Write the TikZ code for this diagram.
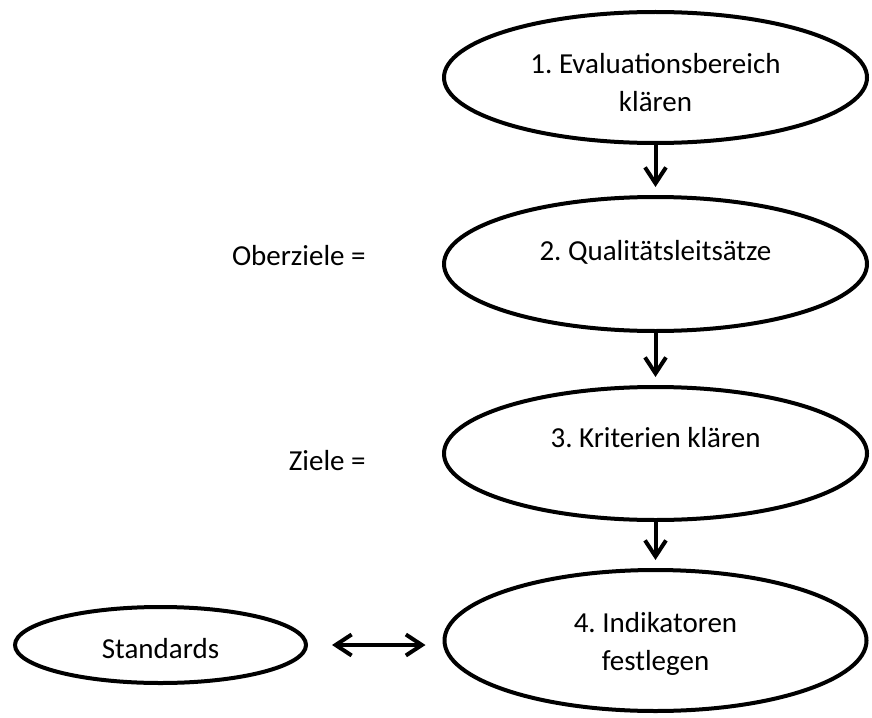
\documentclass[tikz,border=0pt]{standalone}
\usepackage{fontspec}
\setmainfont{Carlito}
\usetikzlibrary{shapes.geometric,arrows.meta}
\frenchspacing
\begin{document}
\begin{tikzpicture}
[x=0.5pt,y=-0.5pt,
  nodedecorate/.style={shape=ellipse,draw,line width=2pt,inner sep=0pt},%
  textdecorate/.style={anchor=base,inner sep=0pt,font=\fontsize{14.5}{18}\selectfont},%
  linedecorate/.style={line width=2pt,-{Straight Barb[length=8pt,width=10.5pt]}}]
\useasboundingbox (0,0) rectangle (872,717);
%% ellipses
\foreach \nodename/\x/\y/\w/\h in {e1/655.5/77.5/423/131, e2/655.5/264/423/134,
  e3/655.5/453.5/423/133, e4/655.5/640.5/422/141, std/160.5/645/291/76}
{
  \node (\nodename) at (\x,\y) [nodedecorate,minimum width=\w*0.5pt,
    minimum height=\h*0.5pt] {};
}
%% texts
\foreach \nodename/\x/\y/\text in {t1a/655.5/74/1. Evaluationsbereich,
  t1b/655.5/112/klären, t2/655.5/260/2. Qualitätsleitsätze,
  t3/655.5/447/3. Kriterien klären, t4a/655.5/632/4. Indikatoren,
  t4b/655.5/670/festlegen, tstd/160.5/658/Standards}
{
  \node (\nodename) at (\x,\y) [textdecorate] {\text};
}
\node (oz) at (366,265) [textdecorate,anchor=base east] {Oberziele =};
\node (zl) at (366,470) [textdecorate,anchor=base east] {Ziele =};
%% arrows
\path
\foreach \startnode/\endnode in {e1/e2, e2/e3, e3/e4}
{
  (\startnode) edge[linedecorate,shorten >=4pt] (\endnode)
};
\draw[linedecorate,{Straight Barb[length=8pt,width=10.5pt]}-{Straight Barb[length=8pt,width=10.5pt]},
  shorten <=12pt,shorten >=8.5pt] (std.east) -- (std.east -| e4.west);
\end{tikzpicture}
\end{document}
